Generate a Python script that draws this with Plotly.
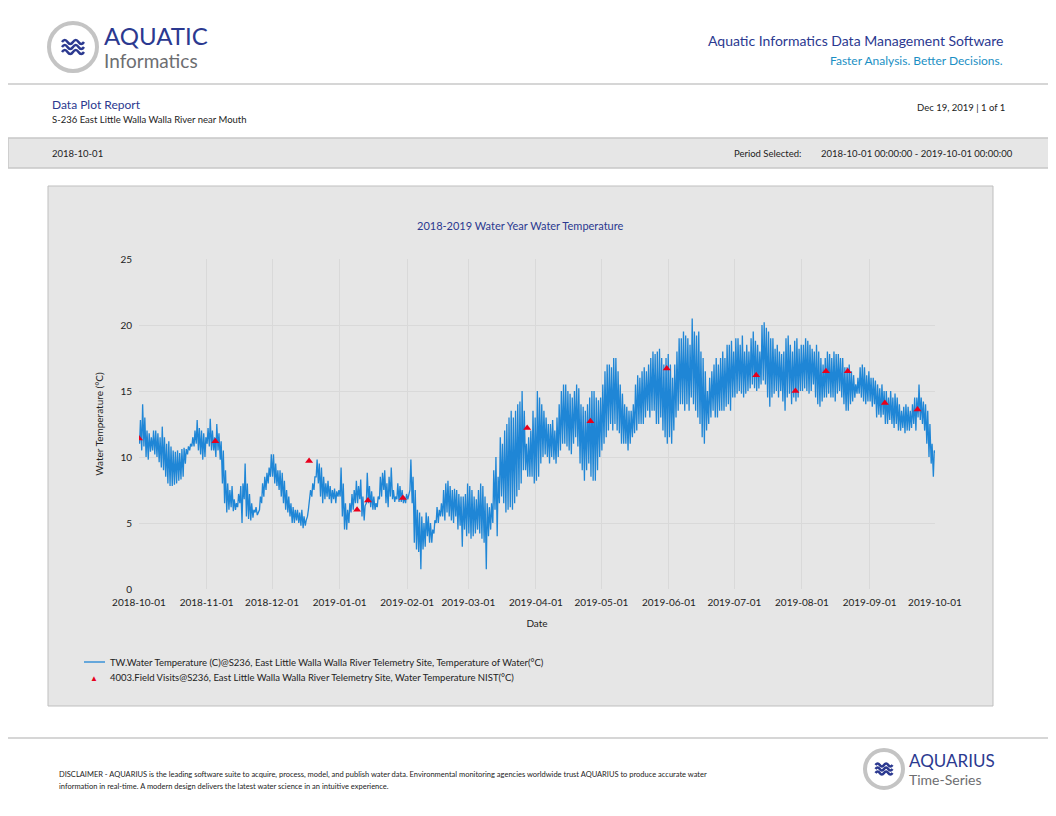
import plotly.graph_objects as go
import datetime as dt

# Daily highs / lows (Oct 2018 .. Sep 2019)
highs = {
"2018-10": [12.8,14.0,13.0,12.0,11.8,11.5,12.0,12.0,11.8,11.5,12.3,11.5,11.0,11.2,10.8,10.5,10.4,10.5,10.3,10.6,10.7,10.6,10.8,11.0,11.5,12.0,12.8,12.2,12.0,11.8,11.5],
"2018-11": [12.2,12.9,12.0,11.5,12.5,11.8,11.2,10.5,9.0,8.0,7.5,7.8,6.8,6.5,7.2,7.8,8.0,9.5,8.0,7.2,6.5,6.0,6.2,5.8,7.0,8.0,8.5,8.8,9.2,10.2],
"2018-12": [10.2,9.5,9.0,9.0,8.8,8.2,7.5,7.0,6.5,6.2,6.0,6.0,5.8,6.0,5.5,5.2,6.0,7.5,8.0,8.5,9.8,9.5,9.2,8.5,8.0,8.2,7.8,7.5,7.6,7.4,7.5],
"2019-01": [9.2,8.0,6.5,6.0,6.5,7.2,7.5,8.2,7.8,8.3,7.0,6.3,8.8,7.8,7.4,7.0,6.5,7.0,8.5,8.8,9.0,8.0,8.5,9.2,7.5,7.0,8.0,7.8,7.5,7.0,7.2],
"2019-02": [7.2,9.8,8.5,7.5,6.0,5.8,5.5,5.0,5.8,5.5,5.0,4.5,5.2,6.2,6.0,6.5,7.5,8.0,8.2,7.8,7.5,7.6,7.5,7.2,7.0,7.0,7.2,8.0],
"2019-03": [7.8,7.5,7.0,6.8,7.5,8.0,7.8,7.0,6.5,6.2,6.5,9.0,10.0,8.5,11.5,11.0,12.0,12.5,13.0,13.5,13.0,13.5,14.0,14.2,15.0,13.5,11.0,11.5,12.0,13.5,13.0],
"2019-04": [15.0,14.5,14.0,13.5,13.0,12.5,12.5,12.8,12.0,13.0,14.0,15.0,15.5,15.5,15.0,14.8,14.5,15.0,15.5,15.2,14.0,13.8,13.5,14.0,14.5,15.0,15.0,14.5,14.3,14.5],
"2019-05": [15.5,16.5,17.0,17.0,16.8,17.5,17.5,16.5,15.5,14.8,14.0,13.8,13.5,13.5,14.0,15.5,16.2,16.0,16.5,16.8,16.5,17.0,17.5,18.0,17.8,18.0,18.2,17.5,17.0,17.5,17.8],
"2019-06": [17.0,16.0,17.0,18.0,19.0,19.0,19.5,19.2,19.0,18.5,20.5,19.5,19.2,19.5,18.0,17.5,16.5,15.0,16.0,16.5,17.0,17.5,17.0,17.5,18.0,17.5,18.5,18.5,18.8,18.0],
"2019-07": [19.0,19.0,18.5,19.2,18.0,18.5,18.0,19.0,19.5,18.8,18.5,18.0,20.0,20.2,19.8,19.5,19.0,19.0,18.2,18.5,18.0,17.8,18.0,19.0,19.2,18.5,18.0,18.8,19.0,18.2,18.5],
"2019-08": [18.5,19.0,18.8,18.5,18.2,18.0,18.5,18.0,17.5,17.0,17.5,18.0,17.8,17.5,18.0,17.8,17.8,17.5,17.5,16.8,16.8,17.0,16.5,16.2,15.5,16.0,16.8,17.0,16.8,16.2,16.5],
"2019-09": [16.0,16.0,15.8,15.5,15.2,15.5,15.0,15.0,14.5,15.0,14.5,14.8,14.5,14.0,13.5,13.8,14.0,13.8,13.5,14.0,14.5,14.5,15.5,14.5,14.2,14.0,13.5,12.5,11.0,10.5],
}
lows = {
"2018-10": [11.0,10.5,10.8,10.0,9.8,10.4,10.5,10.2,10.0,9.6,9.2,9.0,8.5,8.0,7.8,7.8,7.9,8.0,8.2,8.3,8.5,9.5,10.2,10.5,10.8,10.8,11.0,10.5,10.2,9.8,10.0],
"2018-11": [11.0,10.8,10.5,10.5,10.0,10.5,9.8,8.0,6.5,5.8,6.0,6.2,5.9,6.0,6.2,6.5,5.0,6.8,5.5,5.3,5.2,5.4,5.8,5.6,6.0,6.5,7.0,7.5,8.0,8.5],
"2018-12": [8.5,8.0,7.8,7.5,7.0,6.5,6.0,5.8,5.5,5.0,5.0,5.2,5.0,4.8,4.6,4.8,5.5,6.8,7.0,7.5,8.5,8.0,7.0,6.5,6.8,7.0,6.8,6.5,6.8,6.5,7.0],
"2019-01": [7.0,5.5,4.5,4.5,5.0,5.8,6.0,6.5,6.5,6.8,5.5,5.2,6.5,6.5,6.2,6.0,6.0,6.2,6.8,7.0,7.5,6.5,6.2,7.0,6.8,6.6,6.8,6.6,6.6,6.5,6.5],
"2019-02": [6.8,7.5,6.5,3.5,3.0,2.8,1.5,3.0,3.2,4.0,3.5,3.5,4.2,5.0,5.0,5.5,5.5,5.2,5.8,5.5,5.2,5.0,5.5,4.5,4.8,3.2,4.5,4.0],
"2019-03": [4.2,3.8,4.0,4.2,4.5,4.2,3.8,3.5,1.5,4.0,4.5,5.0,6.0,4.0,6.5,7.0,6.5,5.8,6.0,6.2,6.0,6.5,7.0,7.5,8.0,9.0,9.0,8.5,8.5,8.5,8.0],
"2019-04": [8.2,8.5,9.5,10.0,10.2,10.0,9.5,10.0,9.8,9.5,10.0,10.5,11.0,11.0,10.8,10.5,10.2,11.0,11.5,10.8,9.5,9.0,8.2,9.0,9.5,8.5,8.2,8.2,9.0,10.0],
"2019-05": [10.5,11.0,11.5,12.0,12.5,12.0,12.5,12.0,11.8,11.0,11.0,11.0,10.5,11.0,11.5,11.8,12.0,12.5,12.5,12.5,13.0,13.5,13.0,13.5,13.5,12.5,12.5,13.0,12.0,11.5,11.0],
"2019-06": [11.5,11.0,12.0,13.0,13.5,14.0,14.0,13.5,14.0,13.5,14.5,14.0,13.5,13.0,12.5,11.5,11.0,12.0,12.5,13.0,13.5,13.0,13.0,13.5,13.5,13.5,13.8,14.0,13.5,14.5],
"2019-07": [14.5,14.8,15.0,14.8,14.5,14.8,15.0,15.2,15.5,15.2,15.0,15.2,15.5,15.8,15.5,14.5,13.8,14.5,14.8,15.0,14.5,15.0,14.2,13.5,14.5,14.8,14.0,14.5,14.2,14.5,15.0],
"2019-08": [15.0,15.2,15.0,14.8,15.0,15.5,14.5,14.0,13.8,14.2,14.5,14.5,14.8,14.5,14.5,14.2,14.8,15.0,14.5,14.0,13.5,13.5,14.0,14.2,14.5,14.8,14.8,14.5,14.2,14.0,14.2],
"2019-09": [14.2,13.8,14.0,13.0,13.2,13.0,13.2,12.5,12.5,12.8,12.5,12.2,12.5,12.0,12.0,12.2,11.8,12.0,12.0,12.2,12.5,12.0,13.0,12.8,12.5,12.0,11.0,10.0,9.5,8.5],
}
final_value = 10.3

visit_dates = ["2018-10-01","2018-11-05","2018-12-18","2019-01-09","2019-01-14","2019-01-30",
               "2019-03-28","2019-04-26","2019-05-31","2019-07-11","2019-07-29","2019-08-12",
               "2019-08-22","2019-09-08","2019-09-23"]
visit_values = [11.4,11.2,9.7,6.0,6.7,6.9,12.2,12.7,16.7,16.2,15.0,16.5,16.5,14.1,13.6]

xticks = ["2018-10-01","2018-11-01","2018-12-01","2019-01-01","2019-02-01","2019-03-01","2019-04-01",
          "2019-05-01","2019-06-01","2019-07-01","2019-08-01","2019-09-01","2019-10-01"]

ts, vs = [], []
for month in highs:
    y, m = map(int, month.split("-"))
    for i, (h, l) in enumerate(zip(highs[month], lows[month])):
        d = dt.datetime(y, m, i + 1)
        ts += [d + dt.timedelta(hours=6), d + dt.timedelta(hours=16)]
        vs += [l, h]
ts.append(dt.datetime(2019, 10, 1)); vs.append(final_value)

W, H = 1056, 816
OFF = 8  # page body margin offset
def px(x): return (x - OFF) / W
def py(y): return 1 - (y - OFF) / H

FONT = "Lato"
LEG1 = "TW.Water Temperature (C)@S236, East Little Walla Walla River Telemetry Site, Temperature of Water(°C)"
LEG2 = "4003.Field Visits@S236, East Little Walla Walla River Telemetry Site, Water Temperature NIST(°C)"
fig = go.Figure()
fig.add_trace(go.Scatter(x=ts, y=vs, mode="lines", line=dict(color="#1f86d6", width=1.3), name=LEG1, showlegend=False))
fig.add_trace(go.Scatter(x=visit_dates, y=visit_values, mode="markers",
    marker=dict(symbol="triangle-up", color="#e8001c", size=7), name=LEG2, showlegend=False))

shapes = [
    dict(type="line", xref="paper", yref="paper", x0=0, x1=1, y0=py(84), y1=py(84), line=dict(color="#c8c8c8", width=1.5)),
    dict(type="rect", xref="paper", yref="paper", x0=0, x1=1, y0=py(168), y1=py(138), fillcolor="#e6e6e6", line=dict(color="#c8c8c8", width=1.5), layer="below"),
    dict(type="rect", xref="paper", yref="paper", x0=px(48), x1=px(993), y0=py(706), y1=py(186), fillcolor="#e6e6e6", line=dict(color="#bfbfbf", width=1), layer="below"),
    dict(type="line", xref="paper", yref="paper", x0=0, x1=1, y0=py(738), y1=py(738), line=dict(color="#c8c8c8", width=1.5)),
    dict(type="line", xref="paper", yref="paper", x0=px(84), x1=px(105), y0=py(662), y1=py(662), line=dict(color="#1f86d6", width=1.3)),
]

def wave_path(cx, cy, w, amp):
    x0 = cx - w / 2
    s = f"M {px(x0)},{py(cy)}"
    n = 4
    seg = w / n
    for k in range(n):
        xa = x0 + seg * k
        sgn = -1 if k % 2 == 0 else 1
        s += f" Q {px(xa + seg/2)},{py(cy + sgn*amp*2)} {px(xa + seg)},{py(cy)}"
    return s

for cx, cy, r, w, amp, gap in [(73, 47, 24, 22, 2.0, 5), (884, 769, 19, 17, 1.6, 4)]:
    shapes.append(dict(type="circle", xref="paper", yref="paper", x0=px(cx-r), x1=px(cx+r), y0=py(cy+r), y1=py(cy-r),
                       fillcolor="white", line=dict(color="#c4c4c4", width=4)))
    for k in (-1, 0, 1):
        shapes.append(dict(type="path", xref="paper", yref="paper", path=wave_path(cx, cy + k*gap, w, amp),
                           line=dict(color="#2b3990", width=2.5)))

ann = []
def t(x, y, s, size, color="#333", anchor="left", family=FONT):
    ann.append(dict(xref="paper", yref="paper", x=px(x), y=py(y), text=s, showarrow=False, xanchor=anchor,
                    yanchor="middle", font=dict(size=size, color=color, family=family)))
t(102, 36, "AQUATIC", 24, "#2b3990")
t(102, 61, "Informatics", 19, "#6d6e71")
t(1005, 41, "Aquatic Informatics Data Management Software", 14, "#2b3990", "right")
t(1005, 60, "Faster Analysis. Better Decisions.", 12, "#1b8fc4", "right")
t(50, 104, "Data Plot Report", 12, "#2b3990")
t(50, 120, "S-236 East Little Walla Walla River near Mouth", 9.5, "#222")
t(1007, 107, "Dec 19, 2019 | 1 of 1", 9.5, "#222", "right")
t(50, 153, "2018-10-01", 9.5, "#222")
t(803, 153, "Period Selected:", 9.5, "#222", "right")
t(1015, 153, "2018-10-01 00:00:00 - 2019-10-01 00:00:00", 9.5, "#222", "right")
t(520, 226, "2018-2019 Water Year Water Temperature", 11, "#2b3990", "center")
t(94, 678, "▲", 8, "#e8001c", "center")
t(108, 662, LEG1, 9.5, "#222")
t(108, 677, LEG2, 9.5, "#222")
t(57, 774, "DISCLAIMER - AQUARIUS is the leading software suite to acquire, process, model, and publish water data. Environmental monitoring agencies worldwide trust AQUARIUS to produce accurate water", 7.5, "#222")
t(57, 786, "information in real-time. A modern design delivers the latest water science in an intuitive experience.", 7.5, "#222")
t(907, 760, "AQUARIUS", 17, "#2b3990")
t(907, 779, "Time-Series", 14, "#6d6e71")

fig.update_layout(
    width=W, height=H, margin=dict(l=0, r=0, t=0, b=0, autoexpand=False), paper_bgcolor="white", plot_bgcolor="white",
    font=dict(family=FONT, size=10, color="#222"), shapes=shapes, annotations=ann, showlegend=False,
    xaxis=dict(domain=[px(139), px(935)], range=["2018-10-01", "2019-10-01"], tickvals=xticks, ticktext=xticks,
               showgrid=True, gridcolor="#d9d9d9", zeroline=False, showline=False, tickfont=dict(size=10),
               ticklabelstandoff=6, automargin=False, title=dict(text="Date", font=dict(size=10), standoff=12)),
    yaxis=dict(domain=[py(589), py(259)], range=[0, 25], dtick=5, showgrid=True, gridcolor="#d9d9d9",
               zeroline=False, tickfont=dict(size=10), automargin=False, ticklabelstandoff=6,
               title=dict(text="Water Temperature (°C)", font=dict(size=10), standoff=14)),
)
fig.write_html("out.html")
